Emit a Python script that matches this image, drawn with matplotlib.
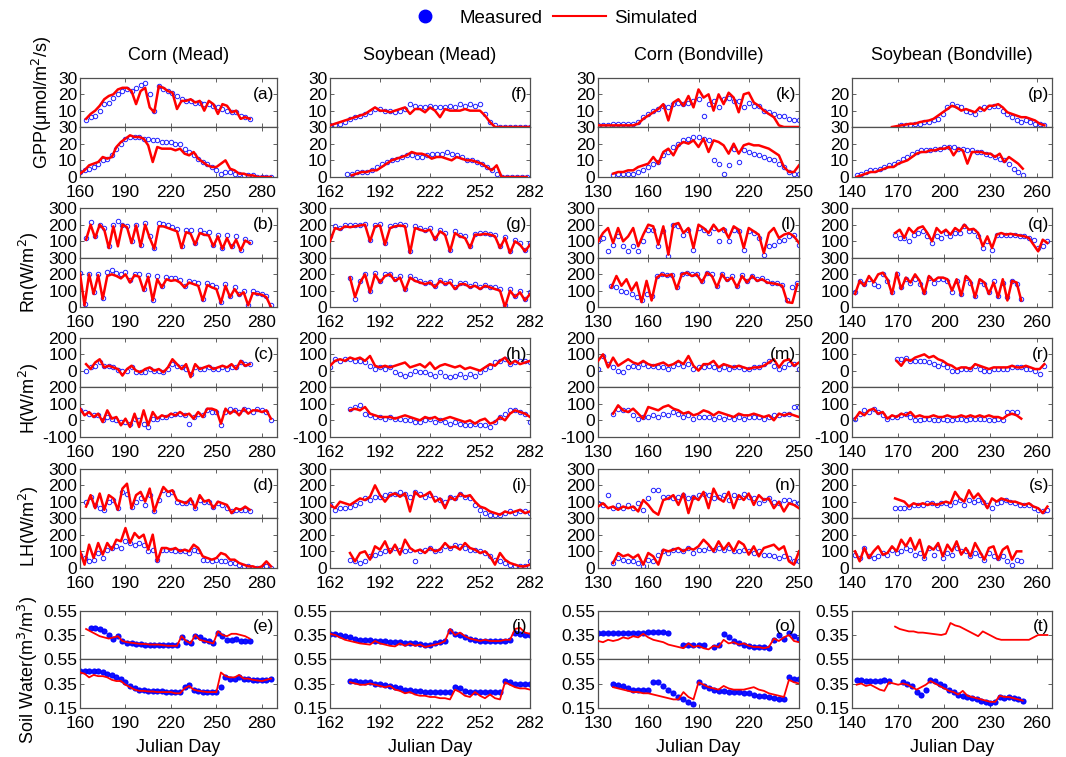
import numpy as np
import matplotlib.pyplot as plt
from matplotlib.lines import Line2D

plt.rcParams["font.family"] = ["Liberation Sans", "DejaVu Sans"]

nan = np.nan

#
# --- Data: per panel (letter) and year (1 = upper strip, 2 = lower strip)
# --- sampled every 3 days from the start day; *_sim = model line, *_obs = measured circles
#
# GPP (umol/m2/s)
a1_sim = [5, 8, 10, 13, 17, 19, 20, 23, 24, 24, 22, 14, 22, 24, 12, 9, 25, 24, 22, 21,
          11, 16, 16, 17, 15, 16, 10, 16, 14, 8, 14, 13, 9, 10, 5, 6, 5]
a1_obs = [4, 6, 7, 10, 14, 15, 18, 20, 22, 23, 22, 24, 26, 27, 20, 10, 25, 23, 22, 21,
          19, 17, 16, 16, 15, 15, 14, 14, 13, 12, 11, 10, 9, 9, 7, 6, 5]
a2_sim = [2, 4, 7, 8, 9, 12, 11, 12, 18, 21, 23, 25, 24, 24, 23, 19, 9, 18, 17, 17,
          17, 16, 17, 14, 13, 15, 11, 9, 7, 6, 6, 8, 10, 5, 4, 2, 2, 1, 1, 0, 0, 0, 0]
a2_obs = [3, 4, 5, 6, 8, 10, 11, 13, 17, 20, 23, 24, 24, 24, 23, 23, 22, 22, 21, 21,
          21, 20, 20, 17, 15, 13, 11, 9, 8, 6, 4, 2, 3, 3, 2, 2, 1, 1, 1, 0, 0, 0, 0]
f1_sim = [1, 2, 3, 4, 5, 6, 7, 8, 10, 12, 10, 10, 9, 10, 11, 12, 8, 11, 11, 9,
          12, 10, 6, 11, 10, 10, 10, 11, 10, 10, 10, 7, 3, 0, 0, 0, 0, 0, 0, 0, 0]
f1_obs = [1, 1.5, 2, 3, 5, 6, 7, 8, 9, 11, 11, 10, 10, 9, 10, 11, 14, 13, 12, 12,
          13, 12, 12, 12, 13, 12, 14, 13, 14, 13, 14, 8, 3, 1, 0, 0, 0, 0, 0, 0, 0]
f2_sim = [nan, 1, 2, 3, 3, 4, 4, 6, 8, 10, 11, 12, 13, 15, 14, 14, 13, 11, 12, 12,
          11, 10, 12, 11, 10, 10, 9, 8, 6, 4, 7, 0, 0, 0, 0, 0, 0]
f2_obs = [2, 2, 3, 3, 3, 4, 6, 8, 9, 10, 11, 12, 13, 13, 12, 12, 13, 14, 14, 14,
          15, 14, 13, 12, 10, 10, 9, 8, 6, 4, 2, 0, 0, 0, 0, 0, 0]
k1_sim = [1, 1, 1, 1, 1, 1, 1, 1, 2, 5, 7, 9, 11, 14, 4, 15, 17, 13, 19, 12,
          23, 18, 20, 10, 20, 14, 21, 18, 9, 20, 21, 15, 13, 10, 8, 6, 1, 0, 0, 0, 0]
k1_obs = [1, 1, 1, 2, 2, 2, 2, 2, 3, 6, 8, 10, 11, 13, 12, 14, 15, 14, 15, 16,
          17, 7, 14, 16, 12, 17, 18, 16, 16, 12, 15, 13, 13, 10, 9, 8, 7, 7, 5, 4, 4]
k2_sim = [2, 3, 3, 4, 4, 6, 7, 8, 12, 8, 15, 17, 13, 19, 21, 20, 22, 18, 23, 15,
          22, 21, 19, 14, 20, 14, 19, 20, 19, 19, 18, 17, 15, 13, 6, 3, 3, 7]
k2_obs = [1, 2, 2, 2, 2, 3, 4, 6, 8, 9, 13, 15, 18, 20, 22, 23, 24, 24, 23, 22,
          10, 8, 2, 7, 17, 9, 16, 15, 14, 13, 12, 11, 10, 8, 6, 3, 2, 2]
p1_sim = [0, 0.5, 1, 1.5, 2, 2, 3, 3.5, 4, 5, 7, 9, 11, 13, 12, 10, 11, 10, 9, 12,
          10, 13, 13, 14, 12, 9, 8, 7, 6, 6, 5, 4, 2, 1]
p1_obs = [nan, nan, 1, 1, 1, 2, 2, 3, 3, 4, 5, 8, 12, 14, 13, 12, 10, 9, 8, 11,
          12, 12, 13, 13, 10, 8, 6, 4, 3, 4, 3, 2, 2, 1]
p2_sim = [0, 1, 2, 3, 3, 4, 5, 6, 6, 8, 9, 10, 12, 14, 15, 15, 16, 16, 17, 17,
          18, 13, 17, 16, 8, 15, 15, 15, 14, 14, 12, 14, 9, 12, 10, 8, 5]
p2_obs = [1, 2, 3, 4, 4, 5, 6, 7, 8, 9, 11, 12, 14, 15, 16, 16, 16, 17, 17, 18,
          18, 18, 17, 17, 16, 16, 15, 15, 14, 13, 12, 11, 10, 8, 5, 3, 1]

# Rn (W/m2)
b1_sim = [110, 200, 120, 200, 170, 60, 190, 70, 200, 185, 90, 195, 70, 200, 120, 55, 190, 190, 180, 170,
          160, 60, 155, 145, 80, 150, 140, 135, 70, 130, 55, 120, 60, 110, 45, 105, 90]
b1_obs = [120, 215, 130, 200, 180, 70, 200, 225, 200, 190, 100, 200, 80, 210, 130, 60, 210, 205, 195, 185,
          175, 70, 170, 165, 90, 165, 150, 155, 80, 140, 60, 135, 70, 130, 50, 115, 95]
b2_sim = [205, 10, 200, 80, 195, 50, 190, 200, 190, 175, 200, 150, 195, 185, 100, 185, 40, 170, 120, 170,
          160, 165, 150, 120, 150, 140, 130, 40, 135, 120, 110, 25, 130, 60, 110, 70, 90, 10, 85, 80,
          75, 60, 0]
b2_obs = [210, 20, 205, 90, 200, 55, 215, 225, 210, 200, 215, 165, 205, 200, 110, 195, 45, 190, 130, 185,
          175, 180, 165, 130, 160, 155, 145, 50, 150, 135, 125, 30, 140, 70, 120, 80, 95, 15, 95, 85,
          80, 70, 10]
g1_sim = [100, 180, 170, 190, 185, 190, 195, 200, 100, 190, 195, 80, 180, 190, 195, 190, 30, 180, 170, 160,
          170, 110, 160, 140, 40, 150, 130, 120, 60, 140, 140, 145, 140, 130, 60, 120, 30, 100, 80, 40, 80]
g1_obs = [130, 190, 180, 200, 195, 200, 200, 205, 110, 200, 205, 90, 190, 200, 205, 200, 40, 190, 180, 170,
          180, 120, 170, 150, 50, 160, 140, 130, 70, 145, 150, 150, 145, 135, 70, 125, 40, 110, 90, 50, 90]
g2_sim = [180, 60, 150, 200, 90, 200, 150, 190, 200, 160, 180, 100, 180, 160, 150, 140, 150, 120, 160, 140,
          150, 110, 140, 140, 120, 130, 110, 130, 120, 110, 100, 0, 100, 60, 90, 40, 80]
g2_obs = [180, 50, 160, 200, 100, 210, 160, 200, 205, 170, 190, 110, 190, 170, 160, 150, 155, 130, 165, 150,
          160, 120, 150, 145, 130, 140, 120, 135, 125, 120, 110, 10, 110, 70, 95, 50, 90]
l1_sim = [100, 150, 180, 90, 180, 100, 130, 180, 70, 140, 200, 190, 80, 190, 20, 200, 210, 150, 180, 60,
          200, 180, 150, 200, 160, 180, 120, 190, 170, 60, 180, 160, 140, 30, 150, 180, 120, 140, 150, 130, 90]
l1_obs = [100, 120, 40, 80, 130, 70, 40, 70, 40, 100, 170, 170, 70, 160, 10, 200, 190, 140, 170, 50,
          180, 170, 150, 180, 100, 170, 100, 170, 160, 50, 160, 150, 120, 20, 70, 80, 100, 110, 130, 140, 80]
l2_sim = [120, 190, 130, 170, 100, 150, 30, 160, 40, 180, 200, 190, 200, 110, 200, 210, 190, 200, 150, 210,
          190, 120, 200, 160, 180, 120, 190, 150, 190, 160, 170, 150, 145, 140, 130, 30, 25, 140]
l2_obs = [130, 120, 100, 90, 80, 60, 40, 80, 70, 190, 200, 195, 195, 120, 200, 210, 200, 205, 160, 210,
          200, 130, 200, 170, 190, 130, 195, 160, 190, 170, 175, 160, 150, 145, 135, 40, 120, 150]
q1_sim = [150, 170, 120, 180, 150, 180, 190, 150, 100, 180, 150, 170, 140, 180, 160, 200, 170, 175, 150, 70,
          130, 60, 140, 150, 140, 145, 140, 135, 130, 120, 80, 40, 110, 90]
q1_obs = [140, 120, 120, 100, 140, 150, 160, 130, 90, 130, 120, 150, 130, 150, 150, 190, 160, 160, 130, 60,
          100, 50, 140, 140, 140, 140, 135, 130, 130, 120, 110, 60, 70, 100]
q2_sim = [80, 160, 130, 190, 150, 200, 210, 170, 80, 210, 110, 180, 150, 200, 160, 80, 190, 160, 180, 180,
          170, 100, 170, 70, 190, 160, 60, 170, 150, 80, 150, 60, 170, 40, 160, 150, 40]
q2_obs = [90, 160, 140, 170, 140, 130, 200, 160, 90, 200, 120, 170, 150, 170, 140, 90, 180, 150, 170, 170,
          160, 90, 160, 80, 180, 150, 70, 160, 140, 90, 160, 70, 150, 60, 160, 140, 50]

# H (W/m2)
c1_sim = [40, 10, 50, 70, 20, 30, 20, 10, -30, 10, 30, 0, -10, 10, 20, 0, 10, -10, 20, 70,
          40, 10, 40, -40, 40, 10, 20, 30, 10, 20, 30, 20, 40, 10, 60, 30, 40]
c1_obs = [0, 20, 30, 50, 30, 30, 20, 5, 0, 0, 20, -10, -10, -10, 10, 0, 0, -10, 10, 40,
          30, 20, 10, -20, 20, 10, 10, 20, 10, 10, 20, 10, 20, 20, 50, 40, 40]
c2_sim = [70, 30, 50, 20, 40, -10, 60, 10, 20, -30, 10, -40, 40, -40, 60, -30, 50, 10, 30, 20,
          40, 30, 50, 30, 40, 10, 50, 20, 70, 70, 60, -20, 70, 40, 60, 30, 70, 40, 60, 60, 50, 60, 10]
c2_obs = [60, 50, 40, 30, 30, 0, 20, 10, 0, -10, -10, -20, 10, 0, -20, -40, 10, 10, 20, 20,
          30, 40, 40, 30, -20, 20, 40, 30, 60, 50, 50, -30, 50, 70, 60, 50, 70, 60, 50, 70, 60, 50, 0]
h1_sim = [30, 60, 70, 60, 80, 70, 80, 60, 90, 30, 20, 30, 20, 30, 40, 50, 20, 30, 40, 20,
          50, 10, 30, 40, 30, 20, 30, 10, 20, 10, 0, 20, 40, 30, 60, 80, 40, 60, 40, 50, 60]
h1_obs = [20, 70, 60, 70, 70, 60, 60, 50, 30, 10, 20, 10, 20, -10, -20, -30, -20, 0, -10, -10,
          -20, -30, -10, -30, -40, -30, -20, -40, -20, -30, -10, 10, 20, 50, 60, 70, 40, 50, 60, 60, 50]
h2_sim = [60, 70, 60, 80, 40, 30, 20, 20, 20, 10, 20, 30, 20, 10, 0, 20, 10, 20, 0, 10,
          20, 10, 0, -10, 0, -20, 0, 10, -20, -10, 20, 0, 40, 60, 50, 40, 20]
h2_obs = [70, 80, 90, 40, 30, 20, 20, 10, 20, 10, 10, 0, 0, -10, -10, 0, 10, -10, 0, -10,
          -20, -10, -20, -30, -30, -20, -30, -30, -40, -10, 20, 40, 60, 60, 50, 40, -10]
m1_sim = [60, 100, 20, 80, 30, 50, 70, 50, 40, 60, 40, 30, 40, 50, 30, 40, 60, 40, 90, 30,
          0, 40, 40, 60, 20, 40, 30, 20, 30, 20, 10, 20, 20, 30, 50, 70, 20, 60, 70, 30, 50]
m1_obs = [10, 90, 40, 20, 0, -10, 20, 30, 20, 40, 30, 30, 20, 20, 10, 30, 40, 30, 40, 10,
          20, 20, 30, 20, 10, 20, 10, 20, 20, 10, 10, 20, 20, 40, 60, 30, 10, 20, 40, 40, 10]
m2_sim = [40, 90, 60, 50, 70, 40, 10, 80, 70, 60, 80, 90, 70, 60, 40, 50, 30, 40, 60, 50,
          30, 50, 40, 30, 20, 40, 30, 30, 40, 30, 20, 30, 0, 40, 30, 40, 30, 20]
m2_obs = [40, 70, 60, 60, 30, 10, 20, 20, 30, 20, 40, 30, 50, 40, 20, 30, 10, 20, 20, 20,
          10, 20, 10, 20, 10, 20, 10, 20, 20, 20, 10, 20, 30, 30, 40, 40, 80, 80]
r1_sim = [60, 30, 70, 60, 80, 90, 100, 80, 90, 70, 60, 40, 30, 10, 20, 20, 10, 40, 30, 20,
          10, 20, 20, 20, 20, 30, 20, 20, 30, 20, 10, 10, 40]
r1_obs = [70, 70, 80, 60, 60, 60, 60, 50, 40, 30, 40, 20, 0, 0, 10, 10, 10, 30, 10, 0,
          0, 10, 10, 10, 10, 20, 20, 20, 10, 10, 0, -20, 30]
r2_sim = [10, 50, 30, 60, 70, 40, 50, 10, 30, 20, 40, 30, 50, 20, 30, 20, 20, 30, 20, 20,
          30, 20, 20, 30, 20, 30, 20, 30, 20, 30, 20, 20, 10, 30, 40, 30, 10]
r2_obs = [10, 40, 60, 50, 70, 50, 30, 10, 20, 20, 30, 40, 20, 0, 0, 10, 10, 0, 0, 10,
          0, 0, 10, 10, 0, 10, 10, 10, 10, 0, 0, 10, 0, 50, 50, 50, nan]

# LH (W/m2)
d1_sim = [70, 140, 60, 150, 50, 140, 120, 50, 180, 210, 60, 140, 160, 100, 180, 40, 120, 190, 160, 170,
          110, 100, 90, 120, 60, 140, 100, 110, 60, 100, 90, 80, 30, 60, 50, 70, 50]
d1_obs = [100, 130, 80, 60, 50, 100, 110, 60, 160, 150, 70, 100, 120, 80, 140, 40, 110, 170, 150, 160,
          100, 90, 90, 100, 60, 110, 100, 100, 70, 90, 80, 60, 40, 50, 50, 50, 40]
d2_sim = [100, 20, 140, 60, 150, 80, 150, 110, 170, 160, 240, 150, 210, 180, 200, 110, 200, 40, 120, 120,
          110, 120, 100, 110, 100, 140, 120, 70, 60, 50, 60, 90, 80, 50, 50, 30, 20, 10, 10, 0, 10, 40, 10]
d2_obs = [80, 60, 40, 50, 90, 60, 110, 120, 130, 120, 160, 150, 140, 150, 140, 100, 110, 50, 110, 110,
          110, 100, 100, 100, 90, 110, 100, 50, 50, 40, 50, 40, 40, 30, 30, 20, 10, 10, 0, 0, 0, 10, 0]
i1_sim = [80, 60, 100, 90, 80, 100, 120, 110, 130, 200, 140, 100, 140, 150, 130, 150, 40, 160, 130, 140,
          160, 100, 120, 60, 130, 110, 150, 130, 140, 100, 70, 60, 40, 30, 20, 40, 30, 40, 50, 30, 40]
i1_obs = [80, 50, 60, 60, 70, 80, 90, 120, 110, 130, 130, 140, 150, 150, 160, 150, 130, 160, 150, 130,
          140, 120, 110, 100, 130, 120, 150, 130, 120, 80, 50, 30, 20, 20, 20, 30, 40, 30, 40, 40, 30]
i2_sim = [90, 40, 90, 100, 50, 130, 110, 160, 90, 140, 80, 170, 120, 100, 110, 90, 120, 100, 110, 150,
          120, 130, 110, 150, 120, 110, 90, 100, 70, 20, 90, 50, 30, 20, 10, 10, 20]
i2_obs = [50, 40, 30, 40, 70, 80, 90, 100, 110, 120, 110, 100, 110, 40, 100, 110, 120, 100, 110, 130,
          120, 140, 130, 120, 110, 110, 100, 90, 70, 50, 40, 30, 20, 10, 10, 10, 40]
n1_sim = [70, 90, 60, 70, 50, 70, 60, 70, 40, 110, 80, 40, 20, 110, 120, 140, 80, 150, 30, 130,
          110, 160, 60, 180, 120, 100, 160, 60, 140, 110, 150, 80, 140, 110, 120, 60, 100, 40, 90, 80, 60]
n1_obs = [90, 80, 140, 60, 80, 60, 80, 60, 90, 50, 120, 170, 170, 130, 130, 120, 130, 140, 120, 130,
          140, 150, 140, 120, 130, 140, 110, 140, 130, 150, 130, 120, 90, 110, 120, 100, 90, 110, 110, 100, 90]
n2_sim = [30, 90, 70, 80, 60, 80, 20, 90, 70, 20, 110, 100, 110, 120, 100, 120, 110, 130, 170, 140,
          100, 160, 110, 150, 100, 160, 140, 80, 130, 70, 120, 130, 140, 110, 130, 40, 20, 100]
n2_obs = [30, 60, 50, 40, 40, 30, 10, 50, 40, 80, 100, 90, 110, 110, 100, 120, 90, 110, 110, 120,
          110, 120, 110, 120, 100, 100, 110, 100, 90, 100, 80, 80, 70, 60, 70, 60, 40, 40]
s1_sim = [120, 110, 100, 70, 90, 80, 90, 80, 90, 80, 90, 100, 90, 160, 120, 100, 170, 120, 150, 110,
          60, 120, 100, 120, 110, 100, 100, 90, 80, 90, 70, 60, 30, 70]
s1_obs = [60, 60, 60, 70, 80, 80, 80, 90, 90, 80, 90, 90, 80, 100, 110, 80, 110, 100, 110, 100,
          80, 60, 90, 100, 110, 100, 90, 80, 80, 80, 60, 50, 40, 50]
s2_sim = [100, 40, 120, 60, 100, 130, 80, 90, 130, 100, 170, 130, 180, 110, 170, 60, 130, 110, 150, 70,
          140, 100, 160, 80, 120, 70, 150, 100, 50, 120, 130, 50, 110, 130, 50, 100, 100]
s2_obs = [80, 60, 120, 70, 60, 70, 90, 80, 110, 90, 100, 120, 110, 80, 90, 60, 120, 80, 120, 60,
          90, 80, 120, 100, 100, 70, 90, 80, 50, 90, 70, 60, 70, 40, 20, 50, 40]

# Soil water (m3/m3)
e1_sim = [0.40, 0.38, 0.36, 0.34, 0.33, 0.32, 0.33, 0.34, 0.30, 0.29, 0.285, 0.28, 0.275, 0.275, 0.27,
          0.27, 0.27, 0.265, 0.26, 0.26, 0.26, 0.34, 0.30, 0.28, 0.35, 0.31, 0.30, 0.29, 0.28, 0.38,
          0.35, 0.34, 0.36, 0.36, 0.35, 0.34, 0.32]
e1_obs = [nan, 0.41, 0.41, 0.40, 0.38, 0.35, 0.32, 0.34, 0.30, 0.28, 0.28, 0.275, 0.275, 0.27, 0.27,
          0.27, 0.27, 0.27, 0.27, 0.27, 0.27, 0.33, 0.29, 0.28, 0.34, 0.33, 0.31, 0.30, 0.28, 0.37,
          0.34, 0.31, 0.31, 0.32, 0.30, 0.30, 0.30]
e2_sim = [0.44, 0.43, 0.40, 0.42, 0.41, 0.41, 0.40, 0.38, 0.37, 0.37, 0.34, 0.32, 0.30, 0.29, 0.29,
          0.285, 0.285, 0.28, 0.28, 0.28, 0.28, 0.27, 0.27, 0.31, 0.33, 0.30, 0.29, 0.285, 0.28, 0.28,
          0.28, 0.44, 0.41, 0.40, 0.40, 0.42, 0.39, 0.39, 0.38, 0.375, 0.37, 0.38, 0.39]
e2_obs = [0.45, 0.45, 0.45, 0.45, 0.45, 0.44, 0.43, 0.42, 0.40, 0.39, 0.36, 0.33, 0.31, 0.30, 0.30,
          0.29, 0.29, 0.285, 0.285, 0.28, 0.28, 0.28, 0.28, 0.32, 0.34, 0.30, 0.29, 0.28, 0.28, 0.28,
          0.28, 0.32, 0.40, 0.39, 0.39, 0.40, 0.39, 0.39, 0.38, 0.38, 0.38, 0.38, 0.39]
j1_sim = [0.36, 0.35, 0.33, 0.31, 0.30, 0.29, 0.28, 0.275, 0.27, 0.30, 0.28, 0.27, 0.26, 0.255, 0.28,
          0.26, 0.28, 0.26, 0.27, 0.25, 0.26, 0.27, 0.28, 0.30, 0.40, 0.35, 0.37, 0.34, 0.32, 0.31,
          0.30, 0.31, 0.30, 0.30, 0.30, 0.31, 0.31, 0.40, 0.41, 0.37, 0.36]
j1_obs = [0.36, 0.36, 0.35, 0.34, 0.33, 0.32, 0.31, 0.31, 0.305, 0.30, 0.30, 0.30, 0.295, 0.29, 0.29,
          0.285, 0.28, 0.28, 0.275, 0.27, 0.27, 0.28, 0.29, 0.30, 0.38, 0.36, 0.35, 0.33, 0.32, 0.31,
          0.30, 0.30, 0.30, 0.30, 0.30, 0.30, 0.31, 0.37, 0.36, 0.35, 0.35]
j2_sim = [0.36, 0.35, 0.34, 0.34, 0.35, 0.34, 0.33, 0.32, 0.33, 0.30, 0.29, 0.27, 0.28, 0.26, 0.25,
          0.25, 0.24, 0.24, 0.23, 0.23, 0.22, 0.30, 0.28, 0.25, 0.24, 0.28, 0.25, 0.23, 0.26, 0.23,
          0.22, 0.36, 0.34, 0.32, 0.31, 0.31, 0.30]
j2_obs = [0.37, 0.37, 0.36, 0.36, 0.36, 0.35, 0.35, 0.34, 0.33, 0.32, 0.31, 0.30, 0.30, 0.29, 0.29,
          0.28, 0.28, 0.28, 0.28, 0.28, 0.28, 0.32, 0.31, 0.29, 0.28, 0.28, 0.28, 0.28, 0.28, 0.28,
          0.28, 0.37, 0.36, 0.35, 0.35, 0.35, 0.35]
o1_sim = [0.30, 0.29, 0.31, 0.30, 0.31, 0.33, 0.32, 0.34, 0.33, 0.36, 0.33, 0.31, 0.30, 0.29, 0.27,
          0.26, 0.25, 0.24, 0.28, 0.25, 0.26, 0.24, 0.23, 0.26, 0.25, 0.31, 0.28, 0.29, 0.27, 0.28,
          0.26, 0.25, 0.25, 0.24, 0.25, 0.32, 0.30, 0.33, 0.35, 0.30, 0.29]
o1_obs = [0.37, 0.37, 0.37, 0.37, 0.37, 0.37, 0.37, 0.37, 0.37, 0.37, 0.375, 0.375, 0.375, 0.375, 0.37,
          nan, nan, 0.27, 0.27, 0.27, 0.27, 0.27, nan, 0.25, 0.27, 0.36, 0.33, 0.30, 0.28, 0.27,
          0.26, 0.25, 0.25, 0.25, 0.24, 0.31, 0.35, 0.32, 0.37, 0.34, 0.32]
o2_sim = [0.32, 0.31, 0.30, 0.29, 0.28, 0.28, 0.27, 0.27, 0.26, 0.25, 0.24, 0.23, 0.22, 0.22, 0.28,
          0.24, 0.22, 0.36, 0.34, 0.32, 0.31, 0.30, 0.33, 0.31, 0.30, 0.30, 0.30, 0.31, 0.32, 0.30,
          0.29, 0.27, 0.26, 0.25, 0.24, 0.38, 0.36, 0.35]
o2_obs = [0.35, 0.34, 0.33, 0.31, 0.30, 0.30, 0.30, 0.30, 0.36, 0.36, 0.33, 0.30, 0.27, 0.24, 0.22,
          0.20, 0.18, 0.36, 0.33, 0.31, 0.30, 0.29, 0.29, 0.28, 0.28, 0.28, 0.27, 0.27, 0.26, 0.25,
          0.25, 0.24, 0.23, 0.22, 0.22, 0.40, 0.39, 0.39]
t1_sim = [0.42, 0.40, 0.39, 0.38, 0.38, 0.37, 0.37, 0.365, 0.36, 0.355, 0.35, 0.36, 0.45, 0.43, 0.42,
          0.40, 0.38, 0.36, 0.34, 0.38, 0.36, 0.34, 0.32, 0.31, 0.31, 0.31, 0.31, 0.31, 0.31, 0.31,
          0.33, 0.35, 0.35, 0.35]
t1_obs = []
t2_sim = [0.34, 0.35, 0.33, 0.34, 0.32, 0.30, 0.29, 0.36, 0.35, 0.34, 0.35, 0.34, 0.32, 0.30, 0.32,
          0.34, 0.37, 0.35, 0.33, 0.31, 0.29, 0.28, 0.26, 0.29, 0.25, 0.24, 0.23, 0.22, 0.21, 0.20,
          0.20, 0.25, 0.24, 0.24, 0.23, 0.22, 0.21]
t2_obs = [0.38, 0.38, 0.37, 0.37, 0.37, 0.37, 0.38, 0.37, nan, nan, 0.36, 0.35, 0.33, 0.28, 0.26,
          0.30, 0.38, 0.37, 0.35, 0.33, 0.30, 0.28, 0.26, 0.25, 0.24, 0.23, 0.22, 0.21, 0.20, 0.19,
          0.20, 0.24, 0.23, 0.24, 0.23, 0.22, 0.21]

#
# --- First sampled day of each strip
#
START_DAY = {
    "a1": 164, "a2": 160, "f1": 162, "f2": 172, "k1": 130, "k2": 139, "p1": 166, "p2": 143,
    "b1": 164, "b2": 160, "g1": 162, "g2": 174, "l1": 130, "l2": 138, "q1": 168, "q2": 142,
    "c1": 164, "c2": 160, "h1": 162, "h2": 174, "m1": 130, "m2": 139, "r1": 169, "r2": 142,
    "d1": 164, "d2": 160, "i1": 162, "i2": 174, "n1": 130, "n2": 139, "s1": 168, "s2": 142,
    "e1": 164, "e2": 160, "j1": 162, "j2": 174, "o1": 130, "o2": 139, "t1": 168, "t2": 143,
}
SERIES = {k: (globals()[k + "_sim"], globals()[k + "_obs"]) for k in START_DAY}

COL_TITLES = ["Corn (Mead)", "Soybean (Mead)", "Corn (Bondville)", "Soybean (Bondville)"]
COL_XLIM = [(160, 290), (162, 282), (130, 250), (140, 270)]
COL_XTICKS = [[160, 190, 220, 250, 280], [162, 192, 222, 252, 282],
              [130, 160, 190, 220, 250], [140, 170, 200, 230, 260]]
ROW_YLIM = [(0, 30), (0, 300), (-100, 200), (0, 300), (0.15, 0.55)]
ROW_YTICKS = [[0, 10, 20, 30], [0, 100, 200, 300], [-100, 0, 100, 200],
              [0, 100, 200, 300], [0.15, 0.35, 0.55]]
ROW_YLABELS = ["GPP(\u03bcmol/m$^2$/s)", "Rn(W/m$^2$)", "H(W/m$^2$)", "LH(W/m$^2$)",
               "Soil Water(m$^3$/m$^3$)"]

#
# --- Layout in pixels (figure 1066 x 757)
#
W, H = 1066, 757
COL_PX = [(80, 277), (330, 530), (598, 799), (852, 1052)]
ROW_PX = [(78, 127, 177), (208, 258, 307), (338, 387, 437), (469, 518, 568), (611, 659, 708)]
YLABEL_PX = [(42, 103), (29, 272), (29, 398), (29, 526), (28, 670)]

fig = plt.figure(figsize=(W / 100, H / 100), dpi=100)


def fmt_tick(v):
    return f"{v:.2f}" if isinstance(v, float) else str(v)


letters = "abcdefghijklmnopqrst"
for ci in range(4):
    x0, x1 = COL_PX[ci]
    for ri in range(5):
        letter = letters[ci * 5 + ri]
        top, mid, bot = ROW_PX[ri]
        for half in (1, 2):
            ya, yb = (top, mid) if half == 1 else (mid, bot)
            ax = fig.add_axes([x0 / W, 1 - yb / H, (x1 - x0) / W, (yb - ya) / H])
            key = f"{letter}{half}"
            sim, obs = SERIES[key]
            start = START_DAY[key]
            if len(obs):
                xo = start + 3 * np.arange(len(obs))
                if ri == 4:
                    ax.plot(xo, obs, ls="", marker="o", ms=3.6, mfc="#1010ff",
                            mec="#0000ff", mew=0.8, zorder=2)
                else:
                    ax.plot(xo, obs, ls="", marker="o", ms=3.2, mfc="none",
                            mec="#2020ff", mew=0.7, zorder=2)
            xs = start + 3 * np.arange(len(sim))
            ax.plot(xs, sim, color="#ff0000", lw=1.3 if ri == 4 else 1.8, zorder=3)

            ax.set_xlim(*COL_XLIM[ci])
            ax.set_ylim(*ROW_YLIM[ri])
            ax.set_xticks(COL_XTICKS[ci])
            ticks = ROW_YTICKS[ri]
            ax.set_yticks(ticks)
            labels = [fmt_tick(t) for t in ticks]
            if half == 1:
                labels[0] = ""
                if letter == "p":
                    labels[-1] = ""
            ax.set_yticklabels(labels)
            if half == 1:
                ax.set_xticklabels([])
            else:
                ax.set_xticklabels([str(t) for t in COL_XTICKS[ci]])
            ax.tick_params(direction="in", top=True, right=True, length=3, width=0.7,
                           color="#606060", labelsize=12.5, pad=2)
            ax.tick_params(axis="x", pad=5.5)
            for sp in ax.spines.values():
                sp.set_color("#505050")
                sp.set_linewidth(0.9)
            if half == 1:
                ax.text(0.985, 0.67, f"({letter})", transform=ax.transAxes,
                        ha="right", va="center", fontsize=12.5)

    fig.text((x0 + x1) / 2 / W, 1 - 55 / H, COL_TITLES[ci], ha="center", va="center",
             fontsize=13)
    fig.text((x0 + x1) / 2 / W, 1 - 747 / H, "Julian Day", ha="center", va="center",
             fontsize=13)

for ri in range(5):
    lx, ly = YLABEL_PX[ri]
    fig.text(lx / W, 1 - ly / H, ROW_YLABELS[ri], rotation=90, ha="center", va="center",
             fontsize=13)

#
# --- Legend
#
handles = [Line2D([], [], ls="", marker="o", ms=9, color="#0000ff"),
           Line2D([], [], color="#ff0000", lw=1.5)]
fig.legend(handles, ["Measured", "Simulated"], loc="center", bbox_to_anchor=(548 / W, 1 - 18 / H),
           ncol=2, frameon=False, fontsize=13.5, handlelength=2.8, handletextpad=0.45,
           columnspacing=0.55)

fig.savefig("out.png", dpi=100)
